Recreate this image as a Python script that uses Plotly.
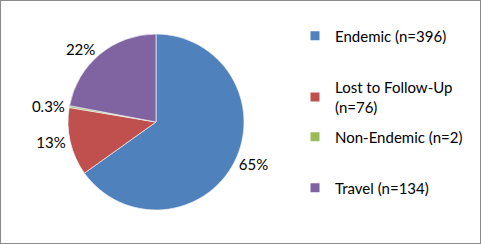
import math
import plotly.graph_objects as go

categories = ["Endemic", "Lost to Follow-Up", "Non-Endemic", "Travel"]
counts = [396, 76, 2, 134]
legend_labels = ["Endemic (n=396)", "Lost to Follow-Up<br>(n=76)", "Non-Endemic (n=2)", "Travel (n=134)"]
colors = ["#4F81BD", "#C0504D", "#9BBB59", "#8064A2"]

total = sum(counts)
def fmt(v):
    p = v / total * 100
    if p >= 1:
        return f"{math.floor(p + 0.5)}%"
    return f"{math.floor(p * 10 + 0.5) / 10:.1f}%"
texts = [fmt(v) for v in counts]

FONT = "Lato"
W, H = 481, 244

fig = go.Figure()
fig.add_trace(go.Pie(
    labels=categories, values=counts, text=texts,
    textinfo="text", textposition="outside",
    sort=False, direction="clockwise", rotation=0,
    marker=dict(colors=colors, line=dict(color="#f0f0f0", width=0.7)),
    textfont=dict(family=FONT, size=15, color="#000000"),
    showlegend=False,
    domain=dict(x=[68 / W, 244 / W], y=[(H - 210) / H, (H - 34) / H]),
))

legend_y = [36, 97, 137, 188]
legend_names = ["legend", "legend2", "legend3", "legend4"]
for lab, col, ly, ln in zip(legend_labels, colors, legend_y, legend_names):
    fig.add_trace(go.Scatter(
        x=[None], y=[None], mode="markers", name=lab,
        marker=dict(symbol="square", size=9, color=col),
        showlegend=True, legend=ln,
    ))

layout_legends = {}
for ly, ln in zip(legend_y, legend_names):
    layout_legends[ln] = dict(
        x=295 / W, xanchor="left", y=1 - ly / H, yanchor="middle",
        font=dict(family=FONT, size=15, color="#000000"),
        bgcolor="rgba(0,0,0,0)", borderwidth=0,
    )

fig.update_layout(
    width=W, height=H,
    margin=dict(l=0, r=0, t=0, b=0),
    paper_bgcolor="white", plot_bgcolor="white",
    xaxis=dict(visible=False), yaxis=dict(visible=False),
    shapes=[dict(type="rect", xref="paper", yref="paper", x0=0, x1=1, y0=0, y1=1,
                 line=dict(color="#8a8a8a", width=2))],
    **layout_legends,
)

fig.write_html("out.html")
